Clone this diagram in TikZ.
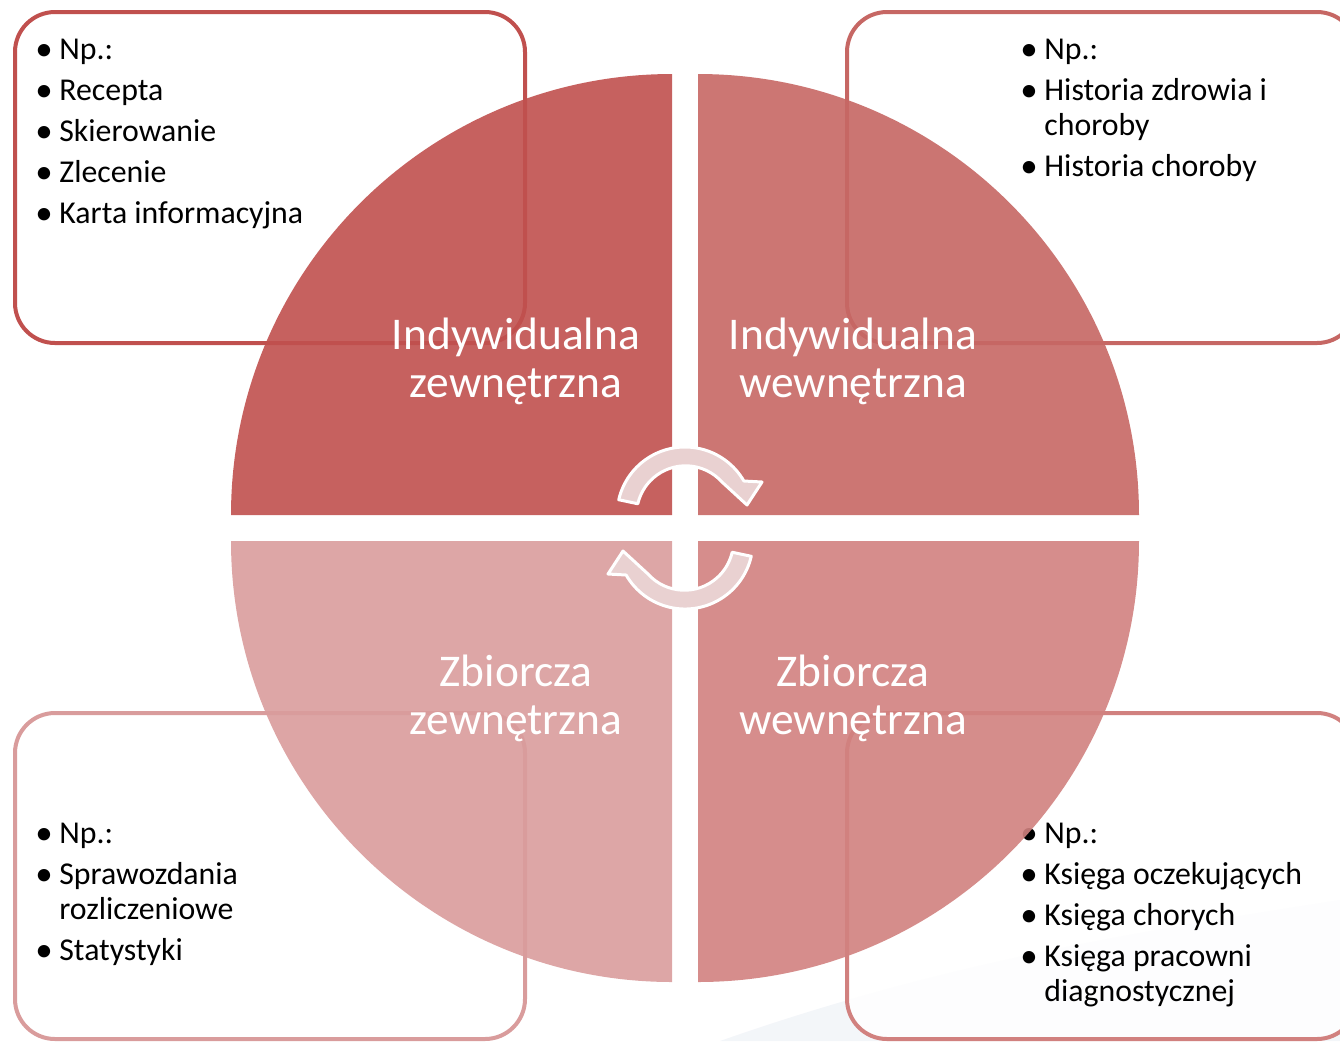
\documentclass[tikz,border=0pt]{standalone}
\usepackage{fontspec}
\setmainfont{Carlito}
\usepackage{xcolor}
\usepackage{tikz}

\definecolor{cwZ}{RGB}{192,80,78}
\definecolor{cwW}{RGB}{198,103,100}
\definecolor{czZ}{RGB}{217,156,156}
\definecolor{czW}{RGB}{209,129,127}
\definecolor{strzalka}{RGB}{233,209,209}
\definecolor{tlo}{RGB}{222,228,238}

\newcommand{\pkt}[1]{\hangindent=12pt\hangafter=1\noindent
  \makebox[12pt][l]{\raisebox{-0.5pt}{\scalebox{1.1}{\textbullet}}}#1\par}

\begin{document}
\begin{tikzpicture}[x=0.5pt, y=-0.5pt,
    ramka/.style={line width=2pt, fill=white, fill opacity=0.85, rounded corners=20pt},
    lista/.style={anchor=base west, inner sep=0pt, text width=300pt, align=flush left,
      font=\fontsize{15.9}{17.5}\selectfont},
    cwiartka/.style={fill opacity=0.9},
    etykieta/.style={align=center, text=white, font=\fontsize{22.7}{24}\selectfont},
    obrot/.style={fill=strzalka, draw=white, line width=1.5pt, line join=round}]
    \clip (0,0) rectangle (1340,1041);

    % background swoosh
    \fill[tlo, opacity=0.35] (720,1041) .. controls (950,960) and (1150,930) .. (1340,900)
      -- (1340,1041) -- cycle;

    % corner boxes
    \draw[ramka, draw=cwZ] (15,12) rectangle (525,343);
    \draw[ramka, draw=cwW] (847,12) rectangle (1357,343);
    \draw[ramka, draw=czZ] (15,713) rectangle (525,1039);
    \draw[ramka, draw=czW] (847,713) rectangle (1357,1039);

    \node[lista] (lIZ) at (35,59) {\parskip=3pt%
      \pkt{Np.:}\pkt{Recepta}\pkt{Skierowanie}\pkt{Zlecenie}\pkt{Karta informacyjna}};
    \node[lista] (lIW) at (1020,59) {\parskip=3pt%
      \pkt{Np.:}\pkt{Historia zdrowia i\newline choroby}\pkt{Historia choroby}};
    \node[lista] (lZZ) at (35,843) {\parskip=3pt%
      \pkt{Np.:}\pkt{Sprawozdania\newline rozliczeniowe}\pkt{Statystyki}};
    \node[lista] (lZW) at (1020,843) {\parskip=3pt%
      \pkt{Np.:}\pkt{Księga oczekujących}\pkt{Księga chorych}\pkt{Księga pracowni\newline diagnostycznej}};

    % quadrants
    \fill[cwiartka, cwZ] (672,515) -- (231,515) arc[start angle=180, end angle=270, radius=441] -- cycle;
    \fill[cwiartka, cwW] (698,515) -- (1139,515) arc[start angle=0, end angle=-90, radius=441] -- cycle;
    \fill[cwiartka, czZ] (672,541) -- (231,541) arc[start angle=180, end angle=90, radius=441] -- cycle;
    \fill[cwiartka, czW] (698,541) -- (1139,541) arc[start angle=0, end angle=90, radius=441] -- cycle;

    \node[etykieta] (qIZ) at (516,361) {Indywidualna\\zewnętrzna};
    \node[etykieta] (qIW) at (853,361) {Indywidualna\\wewnętrzna};
    \node[etykieta] (qZZ) at (516,698) {Zbiorcza\\zewnętrzna};
    \node[etykieta] (qZW) at (853,698) {Zbiorcza\\wewnętrzna};

    % cycle arrows
    \foreach \kat in {0,180} {
      \begin{scope}[rotate around={\kat:(685,528)}]
        \draw[obrot] (685,515) ++(193:68) arc[start angle=193, end angle=330, radius=68]
          -- (762,482) -- (747,505) -- (722,482)
          arc[start angle=318, end angle=193, radius=49] -- cycle;
      \end{scope}
    }
\end{tikzpicture}
\end{document}
